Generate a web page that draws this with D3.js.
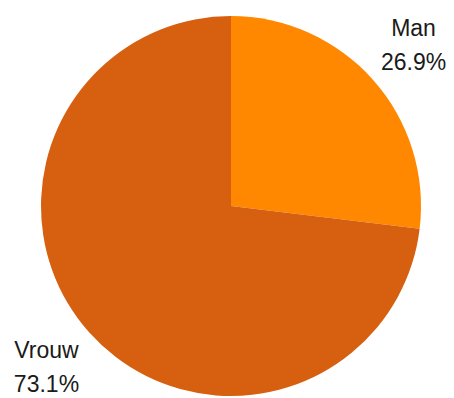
<!DOCTYPE html>
<html>
<head>
<meta charset="utf-8">
<script src="https://cdn.jsdelivr.net/npm/d3@7"></script>
<style>
  html, body { margin: 0; padding: 0; background: #fff; }
  text { font-family: "Liberation Sans", Arial, sans-serif; fill: #1a1a1a; }
</style>
</head>
<body>
<svg id="chart" width="454" height="398"></svg>
<script>
const categories = ["Man", "Vrouw"];
const values = [26.9, 73.1];
const colors = ["#ff8800", "#d6600f"];

const svg = d3.select("#chart"),
  width = +svg.attr("width"),
  height = +svg.attr("height");

const cx = 231, cy = 206, radius = 190;

const pie = d3.pie().sort(null).value((d) => d.value);
const arcs = pie(categories.map((c, i) => ({ name: c, value: values[i] })));

const arc = d3.arc().innerRadius(0).outerRadius(radius);
const labelArc = d3.arc().innerRadius(244).outerRadius(244);

const color = d3.scaleOrdinal().domain(categories).range(colors);

const g = svg.append("g").attr("transform", `translate(${cx},${cy})`);

g.selectAll("path")
  .data(arcs)
  .join("path")
  .attr("d", arc)
  .attr("fill", (d) => color(d.data.name));

// two-line labels outside the slices
const labels = g.selectAll("g.label")
  .data(arcs)
  .join("g")
  .attr("class", "label")
  .attr("transform", (d) => {
    const [x, y] = labelArc.centroid(d);
    return `translate(${x - (x < 0 ? 2 : 0)},${y - (y > 0 ? 2 : 0)})`;
  });

labels.append("text")
  .attr("text-anchor", "middle")
  .attr("y", -8)
  .style("font-size", "23px")
  .text((d) => d.data.name);

labels.append("text")
  .attr("text-anchor", "middle")
  .attr("y", 26)
  .style("font-size", "23px")
  .text((d) => d.data.value.toFixed(1) + "%");
</script>
</body>
</html>
